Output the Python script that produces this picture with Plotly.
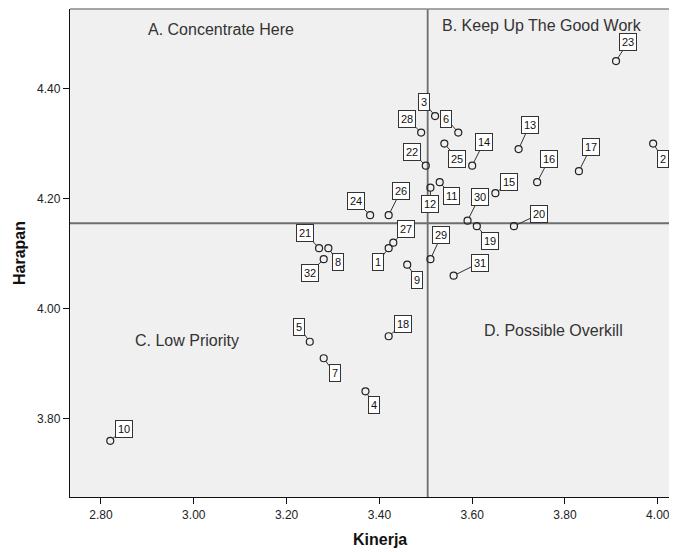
import plotly.graph_objects as go
import numpy as np

# ---- data ----
ids = [str(i) for i in range(1, 33)]
kinerja = [3.42, 3.99, 3.52, 3.37, 3.25, 3.57, 3.28, 3.29, 3.46, 2.82,
           3.53, 3.51, 3.70, 3.60, 3.65, 3.74, 3.83, 3.42, 3.61, 3.69,
           3.27, 3.50, 3.91, 3.38, 3.54, 3.42, 3.43, 3.49, 3.51, 3.59,
           3.56, 3.28]
harapan = [4.11, 4.30, 4.35, 3.85, 3.94, 4.32, 3.91, 4.11, 4.08, 3.76,
           4.23, 4.22, 4.29, 4.26, 4.21, 4.23, 4.25, 3.95, 4.15, 4.15,
           4.11, 4.26, 4.45, 4.17, 4.30, 4.17, 4.12, 4.32, 4.09, 4.16,
           4.06, 4.09]
x_ticks = [2.80, 3.00, 3.20, 3.40, 3.60, 3.80, 4.00]
y_ticks = [3.80, 4.00, 4.20, 4.40]
quadrant_texts = ["A. Concentrate Here", "B. Keep Up The Good Work",
                  "C. Low Priority", "D. Possible Overkill"]

# reference lines at the means (SPSS style)
x_ref = float(np.mean(kinerja))
y_ref = float(np.mean(harapan))

# ---- label placement (pixel offsets of label boxes from their points) ----
label_offsets = {
    "1": (-11, 14), "2": (10, 15), "3": (-11, -14), "4": (9, 14),
    "5": (-11, -15), "6": (-12, -14), "7": (11, 15), "8": (10, 14),
    "9": (10, 15), "10": (14, -12), "11": (12, 14), "12": (0, 16),
    "13": (11, -24), "14": (12, -24), "15": (14, -11), "16": (12, -23),
    "17": (12, -24), "18": (14, -12), "19": (13, 15), "20": (25, -12),
    "21": (-14, -15), "22": (-14, -14), "23": (12, -19), "24": (-14, -14),
    "25": (13, 15), "26": (12, -24), "27": (13, -14), "28": (-14, -14),
    "29": (11, -24), "30": (12, -24), "31": (26, -13), "32": (-14, 14),
}
quadrant_pos = [(3.059, 4.508), (3.750, 4.514), (2.986, 3.942), (3.776, 3.960)]

FONT = "Liberation Sans, Arial, sans-serif"

fig = go.Figure()
fig.add_trace(go.Scatter(
    x=kinerja, y=harapan, mode="markers",
    marker=dict(symbol="circle-open", size=7, color="#222222",
                line=dict(width=1.2, color="#222222")),
    hoverinfo="skip", showlegend=False,
))

annotations = []
for lab, xv, yv in zip(ids, kinerja, harapan):
    dx, dy = label_offsets[lab]
    annotations.append(dict(
        x=xv, y=yv, xref="x", yref="y", text=lab,
        showarrow=True, arrowhead=0, arrowwidth=1, arrowcolor="#333333",
        ax=dx, ay=dy, standoff=3.5,
        font=dict(family=FONT, size=11, color="#111111"),
        bgcolor="white", bordercolor="#333333", borderwidth=1, borderpad=2,
    ))

for txt, (qx, qy) in zip(quadrant_texts, quadrant_pos):
    annotations.append(dict(
        x=qx, y=qy, xref="x", yref="y", text=txt, showarrow=False,
        xanchor="center", yanchor="middle",
        font=dict(family=FONT, size=16, color="#333333"),
    ))

# axis titles
annotations.append(dict(x=0.5107, y=-0.088, xref="paper", yref="paper",
                        text="<b>Kinerja</b>", showarrow=False,
                        xanchor="center", yanchor="middle",
                        font=dict(family=FONT, size=16, color="#111111")))
annotations.append(dict(x=-0.084, y=0.5, xref="paper", yref="paper",
                        text="<b>Harapan</b>", showarrow=False, textangle=-90,
                        xanchor="center", yanchor="middle",
                        font=dict(family=FONT, size=16, color="#111111")))

shapes = [
    dict(type="line", xref="x", yref="paper", x0=x_ref, x1=x_ref, y0=0, y1=1,
         line=dict(color="#6e6e6e", width=1.8), layer="below"),
    dict(type="line", xref="paper", yref="y", x0=0, x1=1, y0=y_ref, y1=y_ref,
         line=dict(color="#6e6e6e", width=1.8), layer="below"),
    dict(type="line", xref="paper", yref="paper", x0=0, x1=1, y0=1, y1=1,
         line=dict(color="#8a8a8a", width=1.5)),
]

# the page adds an 8px body margin, so the figure is sized to the visible area
fig.update_layout(
    width=669, height=544,
    margin=dict(l=62, r=0, t=1, b=55),
    paper_bgcolor="white", plot_bgcolor="#f0f0f0",
    font=dict(family=FONT, size=12, color="#222222"),
    annotations=annotations, shapes=shapes, showlegend=False,
)
fig.update_xaxes(range=[2.7332, 4.0414], tickvals=x_ticks,
                 ticktext=[f"{v:.2f}" for v in x_ticks],
                 ticks="outside", ticklen=6, tickcolor="#111111", tickwidth=1.3,
                 showline=True, linecolor="#111111", linewidth=1.3,
                 showgrid=False, zeroline=False,
                 tickfont=dict(family=FONT, size=12, color="#222222"))
fig.update_yaxes(range=[3.6579, 4.5446], tickvals=y_ticks,
                 ticktext=[f"{v:.2f}" for v in y_ticks],
                 ticks="outside", ticklen=6, tickcolor="#111111", tickwidth=1.3,
                 showline=True, linecolor="#111111", linewidth=1.3,
                 showgrid=False, zeroline=False,
                 tickfont=dict(family=FONT, size=12, color="#222222"))

fig.write_html("out.html")
